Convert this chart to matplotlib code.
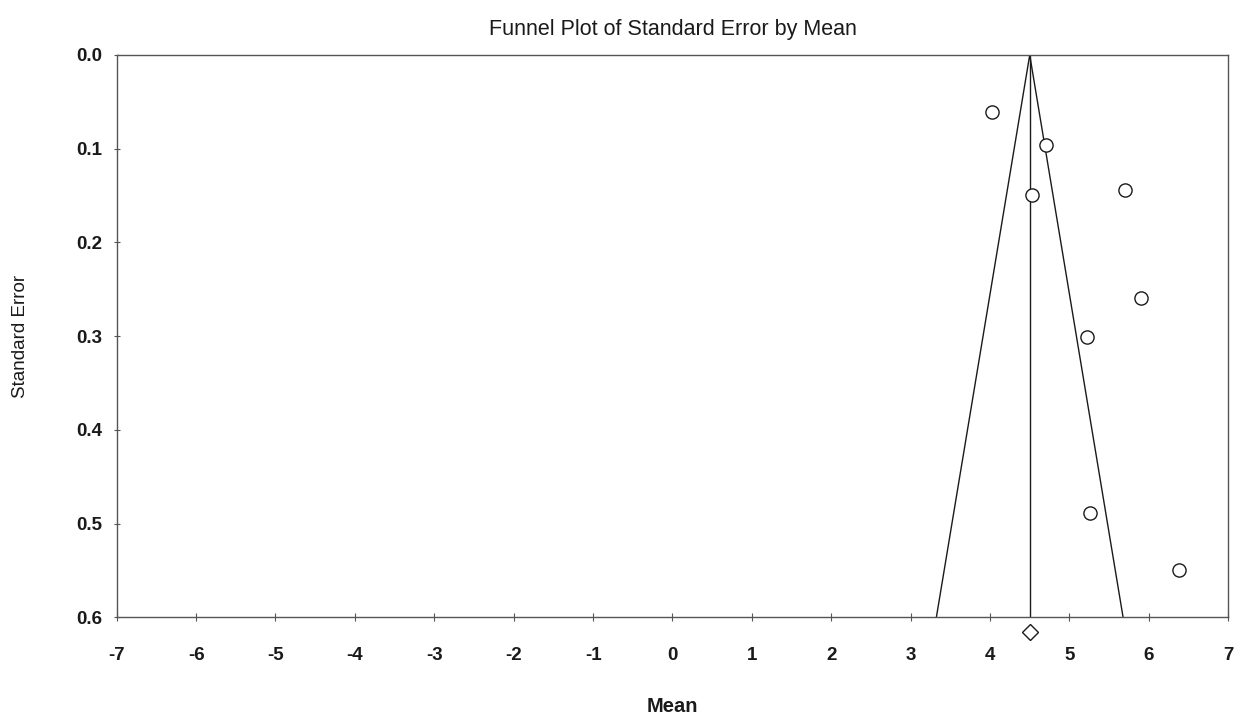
import matplotlib
matplotlib.use("Agg")
import matplotlib.pyplot as plt
import numpy as np

plt.rcParams['font.family'] = ['Liberation Sans', 'DejaVu Sans']

# Study-level estimates
study_means = [4.02, 4.70, 4.53, 5.70, 5.90, 5.22, 5.26, 6.38]
study_se = [0.061, 0.096, 0.149, 0.144, 0.259, 0.301, 0.489, 0.550]

# Pooled (combined) estimate
pooled_mean = 4.50
z_crit = 1.96
se_max = 0.6

x_ticks = list(range(-7, 8))
y_ticks = [0.0, 0.1, 0.2, 0.3, 0.4, 0.5, 0.6]

fig = plt.figure(figsize=(12.35, 7.17), dpi=100)
ax = fig.add_axes([0.0945, 0.139, 0.9, 0.7843])

line_kw = dict(color='#1a1a1a', lw=1.0)

# Pseudo 95% confidence funnel and pooled mean line
ax.plot([pooled_mean - z_crit * se_max, pooled_mean, pooled_mean + z_crit * se_max],
        [se_max, 0.0, se_max], **line_kw)
ax.plot([pooled_mean, pooled_mean], [0.0, se_max], **line_kw)

# Individual studies
ax.plot(study_means, study_se, linestyle='none', marker='o', markersize=9.5,
        markerfacecolor='white', markeredgecolor='#1a1a1a', markeredgewidth=1.0)

# Pooled estimate diamond below the axis
ax.plot([pooled_mean], [0.616], linestyle='none', marker='D', markersize=8,
        markerfacecolor='white', markeredgecolor='#1a1a1a', markeredgewidth=1.0,
        clip_on=False)

ax.set_xlim(-7, 7)
ax.set_ylim(se_max, 0.0)
ax.set_xticks(x_ticks)
ax.set_xticklabels([str(t) for t in x_ticks])
ax.set_yticks(y_ticks)
ax.set_yticklabels([f"{t:.1f}" for t in y_ticks])

for s in ax.spines.values():
    s.set_color('#555555')
    s.set_linewidth(1.0)

ax.tick_params(axis='x', direction='inout', length=6, width=0.8, color='#555555',
               pad=18.5, labelsize=13.5)
ax.tick_params(axis='y', direction='inout', length=5, width=0.8, color='#555555',
               pad=8, labelsize=13.5)
for lab in ax.get_xticklabels() + ax.get_yticklabels():
    lab.set_fontweight('bold')
    lab.set_color('#1a1a1a')

fig.text(0.5 * (0.0945 + 0.9945), 1 - 30 / 717, "Funnel Plot of Standard Error by Mean",
         ha='center', va='center', fontsize=15.5, color='#1a1a1a')
fig.text(21 / 1235, 0.5 * (0.139 + 0.9233), "Standard Error", rotation=90,
         ha='center', va='center', fontsize=13.5, color='#1a1a1a')
fig.text(0.5 * (0.0945 + 0.9945), 1 - 706 / 717, "Mean", ha='center', va='center',
         fontsize=14.5, fontweight='bold', color='#1a1a1a')

fig.savefig("out.png", dpi=100, facecolor='white')
